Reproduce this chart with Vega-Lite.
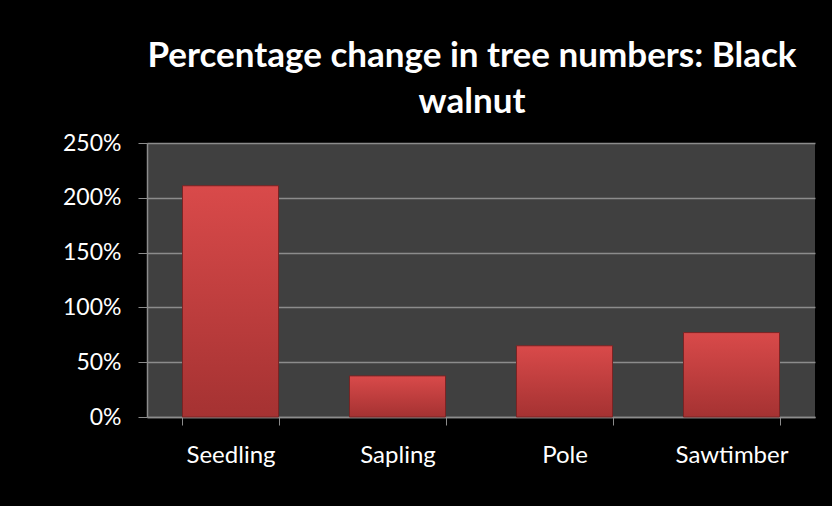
{
  "$schema": "https://vega.github.io/schema/vega-lite/v6.json",
  "width": 668,
  "height": 274,
  "autosize": {"type": "none"},
  "padding": {"left": 147, "top": 143, "right": 17, "bottom": 89},
  "background": "#000000",
  "title": {
    "text": ["Percentage change in tree numbers: Black", "walnut"],
    "font": "Lato",
    "fontSize": 35,
    "fontWeight": "bold",
    "color": "#ffffff",
    "anchor": "middle",
    "dx": -9,
    "offset": 12,
    "lineHeight": 46
  },
  "data": {
    "values": [
      {"size": "Seedling", "change": 2.11},
      {"size": "Sapling", "change": 0.375},
      {"size": "Pole", "change": 0.65},
      {"size": "Sawtimber", "change": 0.77}
    ]
  },
  "mark": {
    "type": "bar",
    "color": {
      "x1": 0, "y1": 0, "x2": 0, "y2": 1,
      "gradient": "linear",
      "stops": [
        {"offset": 0, "color": "#D94A4A"},
        {"offset": 1, "color": "#A53232"}
      ]
    },
    "stroke": "#7A2424",
    "strokeWidth": 1
  },
  "encoding": {
    "x": {
      "field": "size",
      "type": "nominal",
      "sort": null,
      "scale": {"paddingInner": 0.425, "paddingOuter": 0.2125},
      "axis": {
        "title": null,
        "labelAngle": 0,
        "labelFont": "Lato",
        "labelFontSize": 24,
        "labelColor": "#ffffff",
        "labelPadding": 18,
        "tickBand": "extent",
        "tickSize": 8,
        "tickColor": "#8C8C8C",
        "domainColor": "#8C8C8C",
        "domainWidth": 1.5,
        "grid": false
      }
    },
    "y": {
      "field": "change",
      "type": "quantitative",
      "scale": {"domain": [0, 2.5], "nice": false},
      "axis": {
        "title": null,
        "values": [0, 0.5, 1, 1.5, 2, 2.5],
        "format": ".0%",
        "labelFont": "Lato",
        "labelFontSize": 23,
        "labelColor": "#ffffff",
        "labelPadding": 17,
        "tickSize": 9,
        "tickColor": "#8C8C8C",
        "domainColor": "#8C8C8C",
        "domainWidth": 1.5,
        "grid": true,
        "gridColor": "#8C8C8C",
        "gridWidth": 1.5
      }
    }
  },
  "config": {"view": {"fill": "#404040", "stroke": null}}
}
